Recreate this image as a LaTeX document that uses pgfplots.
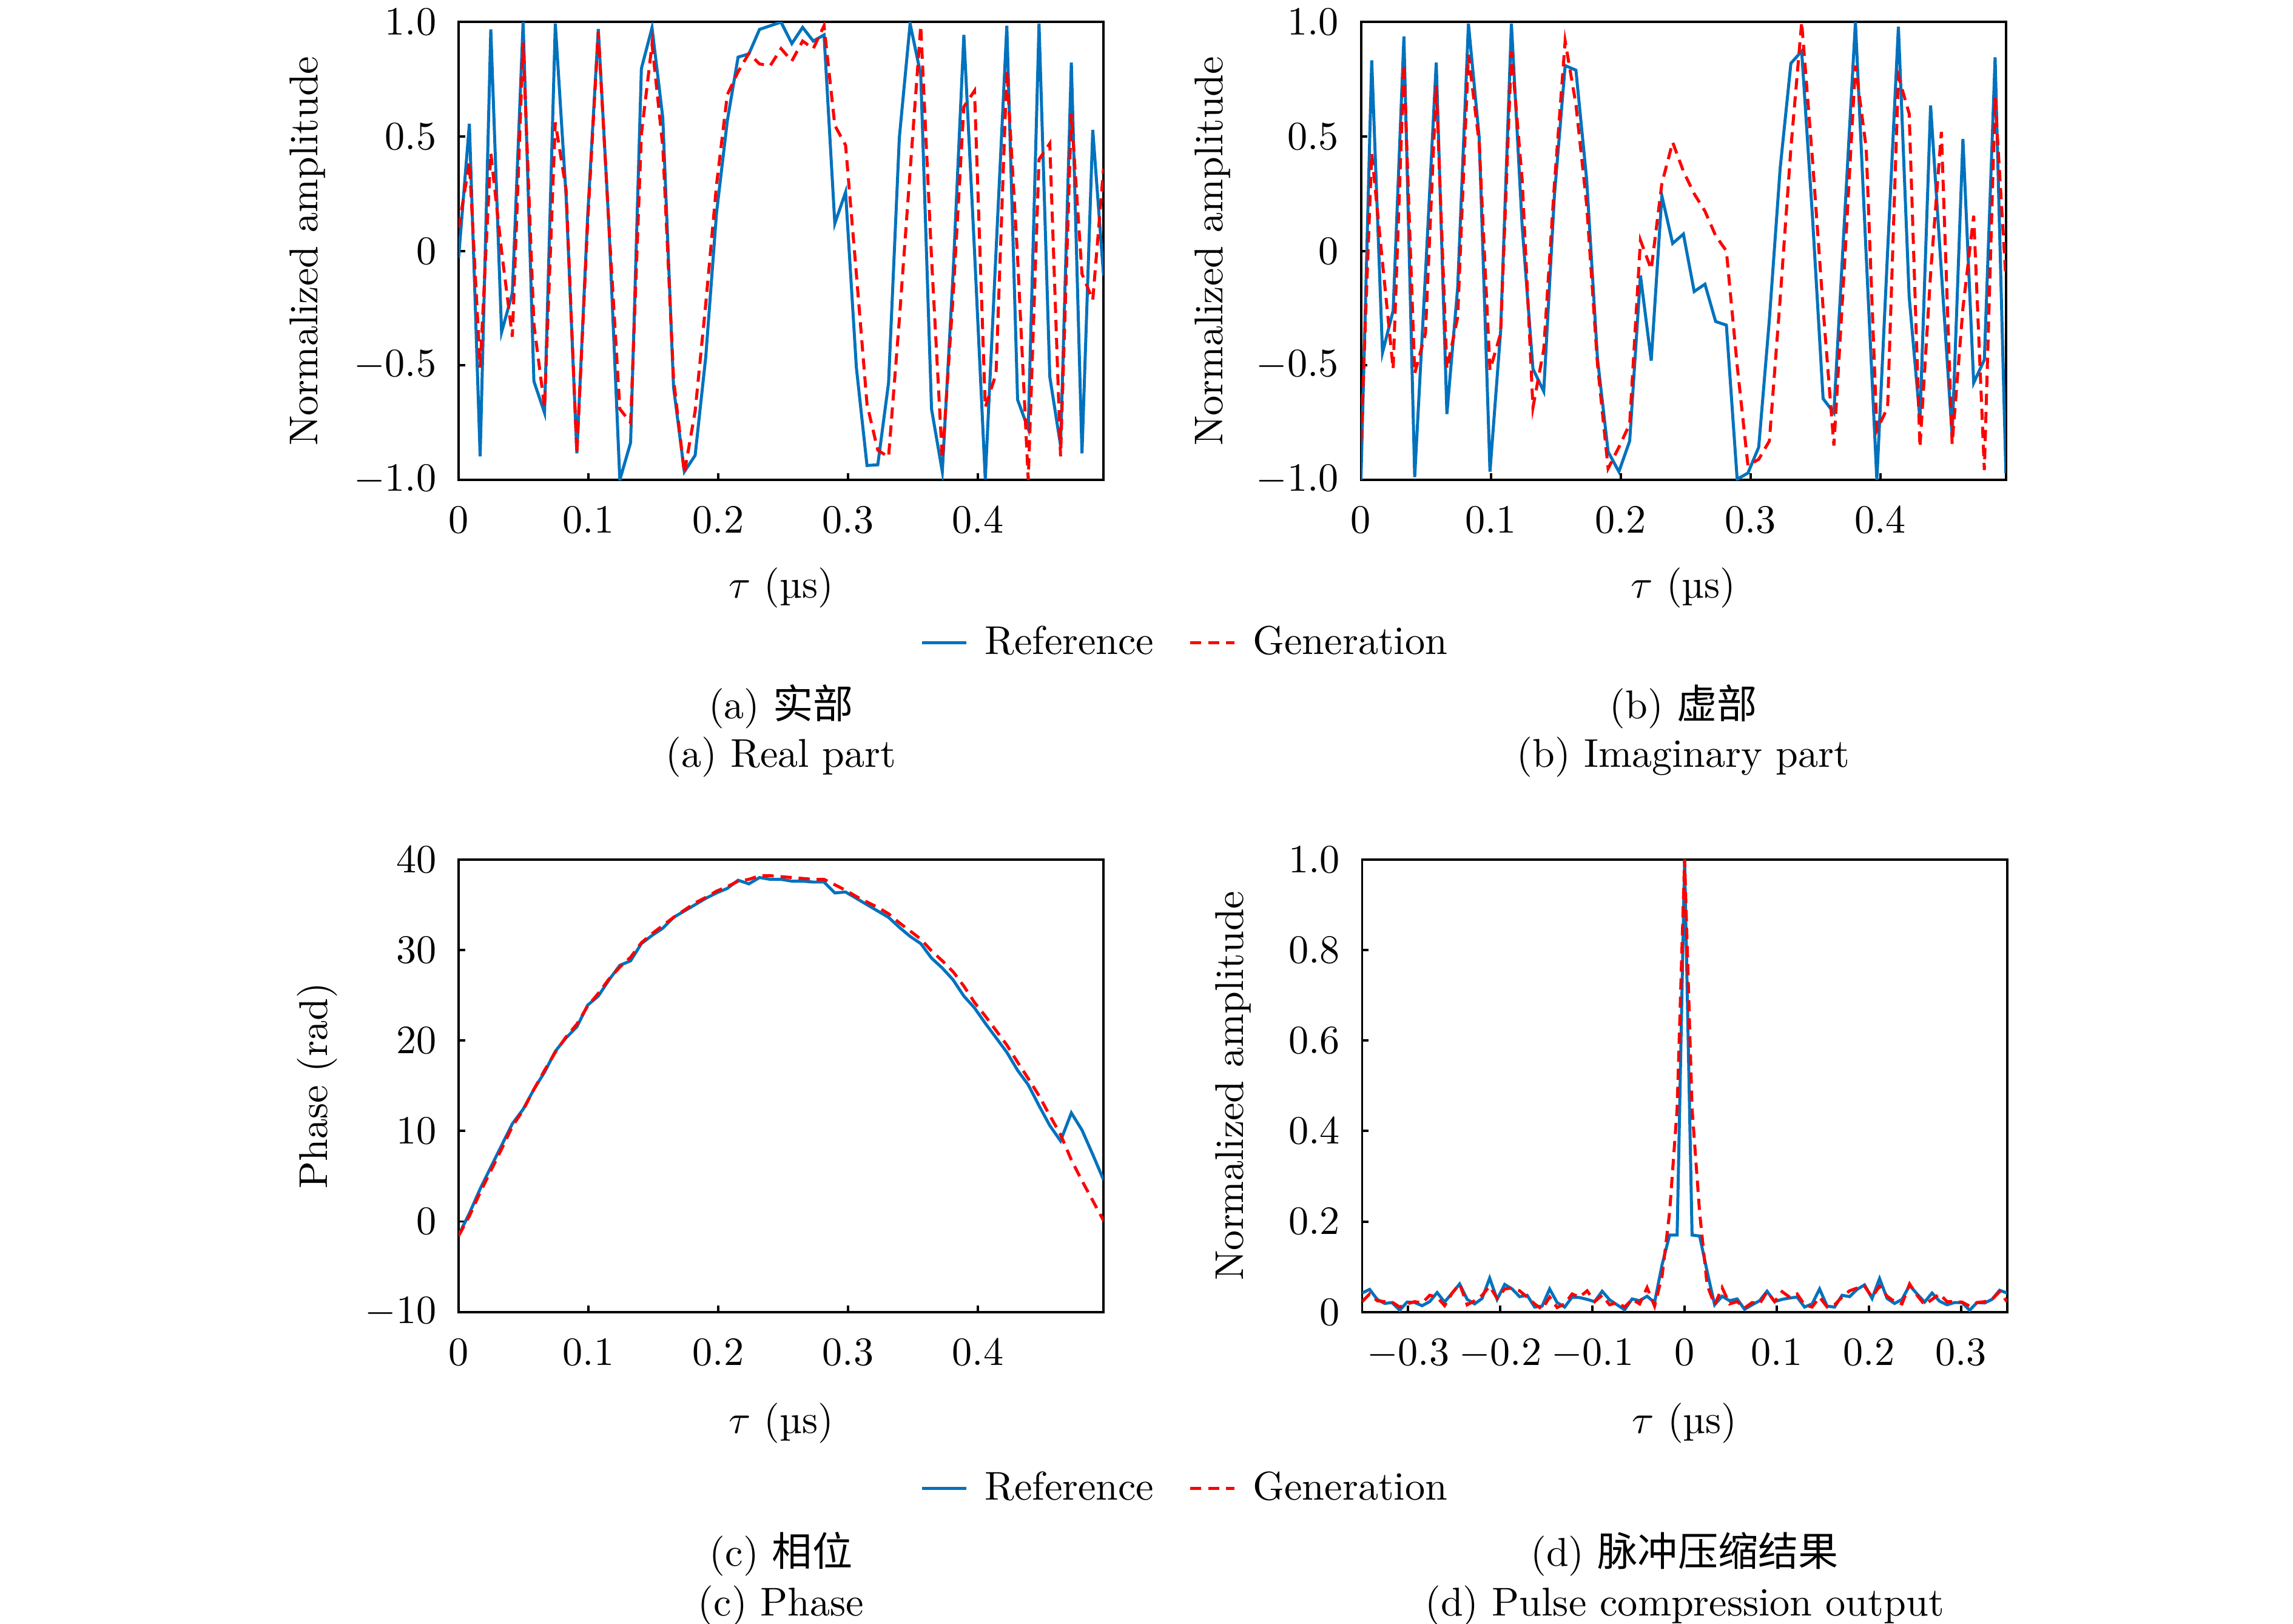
\documentclass[border=0pt]{standalone}
\usepackage{fontspec}
\newfontfamily\cjk{Noto Sans CJK SC}
\usepackage{pgfplots}
\usepackage{pgfplotstable}
\pgfplotsset{compat=1.18}
\definecolor{mblue}{rgb}{0,0.447,0.741}

\pgfplotstableread{
t ref gen
0 -0.03 0.10
0.0083 0.556 0.388
0.0166 -0.897 -0.509
0.0248 0.968 0.428
0.0331 -0.355 0.0
0.0414 -0.185 -0.375
0.0497 1.0 0.91
0.0580 -0.569 -0.32
0.0662 -0.707 -0.683
0.0745 0.993 0.562
0.0828 0.241 0.268
0.0911 -0.884 -0.884
0.0994 0.15 0.12
0.1076 0.97 0.957
0.1159 0.1 0.1
0.1242 -1.0 -0.69
0.1325 -0.837 -0.75
0.1408 0.797 0.51
0.1490 0.975 0.904
0.1573 0.582 0.455
0.1656 -0.596 -0.56
0.1739 -0.964 -0.97
0.1822 -0.893 -0.70
0.1904 -0.462 -0.23
0.1987 0.167 0.29
0.2070 0.569 0.683
0.2153 0.847 0.783
0.2236 0.861 0.863
0.2318 0.968 0.817
0.2401 0.984 0.81
0.2484 1.0 0.884
0.2567 0.906 0.83
0.2650 0.977 0.917
0.2732 0.917 0.884
0.2815 0.944 0.984
0.2898 0.12 0.549
0.2981 0.257 0.462
0.3064 -0.509 -0.1
0.3146 -0.937 -0.67
0.3229 -0.934 -0.87
0.3312 -0.576 -0.90
0.3395 0.495 -0.3
0.3478 0.993 0.35
0.3560 0.77 0.984
0.3643 -0.69 -0.03
0.3726 -0.964 -0.91
0.3809 -0.1 -0.2
0.3892 0.944 0.63
0.3974 0.0 0.70
0.4057 -0.997 -0.683
0.4140 0.0 -0.536
0.4223 0.984 0.79
0.4306 -0.65 -0.03
0.4388 -0.777 -1.0
0.4471 0.993 0.40
0.4554 -0.549 0.47
0.4637 -0.85 -0.897
0.4720 0.823 0.60
0.4802 -0.884 -0.1
0.4885 0.529 -0.214
0.4968 -0.107 0.36
}\tabA

\pgfplotstableread{
t ref gen
0 -1.0 -0.83
0.0083 0.833 0.428
0.0166 -0.444 -0.05
0.0248 -0.261 -0.515
0.0331 0.937 0.817
0.0414 -0.988 -0.535
0.0497 -0.1 -0.36
0.0580 0.823 0.723
0.0662 -0.712 -0.515
0.0745 -0.16 -0.29
0.0828 0.993 0.857
0.0911 0.495 0.47
0.0994 -0.964 -0.52
0.1076 -0.35 -0.36
0.1159 0.993 0.87
0.1242 0.107 0.31
0.1325 -0.515 -0.683
0.1408 -0.613 -0.43
0.1490 0.24 0.29
0.1573 0.81 0.917
0.1656 0.79 0.64
0.1739 0.31 0.2
0.1822 -0.47 -0.495
0.1904 -0.877 -0.95
0.1987 -0.964 -0.857
0.2070 -0.83 -0.756
0.2153 -0.107 0.047
0.2236 -0.479 -0.08
0.2318 0.241 0.295
0.2401 0.033 0.475
0.2484 0.074 0.348
0.2567 -0.177 0.25
0.2650 -0.145 0.174
0.2732 -0.308 0.067
0.2815 -0.324 0.0
0.2898 -0.997 -0.5
0.2981 -0.97 -0.937
0.3064 -0.857 -0.91
0.3146 -0.3 -0.83
0.3229 0.36 -0.21
0.3312 0.82 0.45
0.3395 0.873 1.0
0.3478 0.15 0.4
0.3560 -0.645 -0.25
0.3643 -0.707 -0.85
0.3726 0.15 -0.05
0.3809 1.0 0.81
0.3892 -0.02 0.45
0.3974 -1.0 -0.783
0.4057 0.0 -0.683
0.4140 0.98 0.763
0.4223 -0.2 0.60
0.4306 -0.736 -0.857
0.4388 0.636 -0.1
0.4471 -0.09 0.52
0.4554 -0.81 -0.843
0.4637 0.489 -0.25
0.4720 -0.576 0.154
0.4802 -0.475 -0.957
0.4885 0.846 0.669
0.4968 -0.97 -0.12
}\tabB

\pgfplotstableread{
t ref gen
0 -1.5 -1.6
0.0083 0.9 0.6
0.0166 3.6 3.2
0.0248 6.0 5.6
0.0331 8.4 8.0
0.0414 10.8 10.5
0.0497 12.4 12.3
0.0580 14.6 14.6
0.0662 16.5 16.7
0.0745 18.8 18.7
0.0828 20.3 20.4
0.0911 21.5 21.8
0.0994 23.9 23.8
0.1076 24.9 25.2
0.1159 26.7 26.8
0.1242 28.3 28.1
0.1325 28.8 29.2
0.1408 30.7 30.8
0.1490 31.6 31.8
0.1573 32.4 32.7
0.1656 33.6 33.6
0.1739 34.3 34.4
0.1822 35.0 35.2
0.1904 35.7 35.8
0.1987 36.3 36.5
0.2070 36.8 37.0
0.2153 37.7 37.6
0.2236 37.3 37.8
0.2318 38.0 38.2
0.2401 37.8 38.2
0.2484 37.8 38.1
0.2567 37.6 38.0
0.2650 37.6 37.9
0.2732 37.5 37.8
0.2815 37.5 37.8
0.2898 36.3 37.2
0.2981 36.4 36.6
0.3064 35.7 35.9
0.3146 35.0 35.3
0.3229 34.3 34.7
0.3312 33.6 34.0
0.3395 32.5 33.0
0.3478 31.5 32.1
0.3560 30.7 31.2
0.3643 29.1 29.9
0.3726 28.0 28.8
0.3809 26.7 27.6
0.3892 24.9 26.0
0.3974 23.6 24.2
0.4057 21.9 22.7
0.4140 20.3 21.1
0.4223 18.7 19.5
0.4306 16.7 17.6
0.4388 15.1 15.8
0.4471 12.8 13.9
0.4554 10.6 11.7
0.4637 8.9 9.6
0.4720 12.0 6.8
0.4802 10.1 4.5
0.4885 7.4 2.3
0.4968 4.6 0.1
}\tabC

\pgfplotstableread{
t ref gen
-0.3500 0.042 0.023
-0.3419 0.050 0.040
-0.3337 0.028 0.025
-0.3256 0.019 0.023
-0.3175 0.021 0.022
-0.3093 0.004 0.011
-0.3012 0.022 0.018
-0.2930 0.021 0.023
-0.2849 0.014 0.020
-0.2767 0.023 0.037
-0.2686 0.043 0.033
-0.2605 0.022 0.014
-0.2523 0.042 0.042
-0.2442 0.062 0.062
-0.2360 0.028 0.016
-0.2279 0.018 0.025
-0.2198 0.030 0.037
-0.2116 0.075 0.057
-0.2035 0.028 0.030
-0.1953 0.061 0.051
-0.1872 0.051 0.053
-0.1791 0.034 0.047
-0.1709 0.037 0.033
-0.1628 0.011 0.018
-0.1547 0.013 0.006
-0.1465 0.051 0.033
-0.1384 0.021 0.010
-0.1302 0.011 0.018
-0.1221 0.033 0.040
-0.1140 0.032 0.033
-0.1058 0.028 0.047
-0.0977 0.023 0.023
-0.0895 0.046 0.037
-0.0814 0.027 0.016
-0.0733 0.016 0.021
-0.0651 0.005 0.011
-0.0570 0.029 0.028
-0.0488 0.025 0.018
-0.0407 0.035 0.054
-0.0326 0.021 0.013
-0.0244 0.105 0.080
-0.0163 0.170 0.220
-0.0081 0.170 0.450
0 1.000 1.000
0.0081 0.170 0.450
0.0163 0.168 0.220
0.0244 0.090 0.060
0.0326 0.016 0.016
0.0407 0.035 0.054
0.0488 0.025 0.018
0.0570 0.029 0.023
0.0651 0.006 0.009
0.0733 0.016 0.021
0.0814 0.025 0.018
0.0895 0.046 0.045
0.0977 0.023 0.023
0.1058 0.028 0.045
0.1140 0.031 0.033
0.1221 0.033 0.040
0.1302 0.011 0.016
0.1384 0.018 0.011
0.1465 0.051 0.033
0.1547 0.013 0.011
0.1628 0.011 0.016
0.1709 0.037 0.033
0.1791 0.034 0.047
0.1872 0.050 0.053
0.1953 0.060 0.057
0.2035 0.030 0.033
0.2116 0.074 0.057
0.2198 0.030 0.035
0.2279 0.019 0.023
0.2360 0.028 0.018
0.2442 0.059 0.062
0.2523 0.040 0.037
0.2605 0.022 0.016
0.2686 0.042 0.028
0.2767 0.024 0.040
0.2849 0.016 0.023
0.2930 0.021 0.023
0.3012 0.021 0.022
0.3093 0.004 0.013
0.3175 0.021 0.021
0.3256 0.020 0.023
0.3337 0.028 0.028
0.3419 0.048 0.045
0.3500 0.042 0.023
}\tabD

\pgfplotsset{
  sub/.style={
    scale only axis, width=160.6pt,
    axis line style={line width=0.6pt},
    tick align=inside, major tick length=1.6pt,
    xtick pos=bottom, ytick pos=left,
    tick style={black, line width=0.6pt},
    xticklabel style={yshift=-3.3pt},
    yticklabel style={xshift=-2pt},
    xlabel={$\tau$ (\textmu s)},
    label style={font=\normalsize},
  },
  refline/.style={mblue, line width=0.75pt},
  genline/.style={red, line width=0.75pt, dash pattern=on 2.8pt off 1.7pt},
  leg/.style={legend columns=2,
    legend style={draw=none, fill=none, font=\normalsize,
      /tikz/every odd column/.append style={column sep=2.2pt},
      /tikz/every even column/.append style={column sep=6.6pt}},
    legend image code/.code={\draw[##1] (0pt,0pt) -- (11.1pt,0pt);},
  },
}

\begin{document}
\begin{tikzpicture}
\path[use as bounding box] (0pt,0pt) rectangle (571pt,-404.3pt);

% (a)
\begin{axis}[sub, at={(114.2pt,-5.5pt)}, anchor=north west, height=114.0pt,
  xmin=0, xmax=0.4968, ymin=-1, ymax=1,
  xtick={0,0.1,0.2,0.3,0.4},
  ytick={-1,-0.5,0,0.5,1}, yticklabels={$-1.0$,$-0.5$,$0$,$0.5$,$1.0$},
  ylabel={Normalized amplitude},
  xlabel style={at={(axis description cs:0.5,-0.236)}, anchor=center},
  ylabel style={at={(axis description cs:-0.234,0.5)}, anchor=center},
  leg, legend style={at={(1.131,-0.356)}, anchor=center}]
\addplot[refline] table[x=t, y=ref] {\tabA};
\addlegendentry{Reference}
\addplot[genline] table[x=t, y=gen] {\tabA};
\addlegendentry{Generation}
\end{axis}

% (b)
\begin{axis}[sub, at={(338.9pt,-5.5pt)}, anchor=north west, height=114.0pt,
  xmin=0, xmax=0.4968, ymin=-1, ymax=1,
  xtick={0,0.1,0.2,0.3,0.4},
  ytick={-1,-0.5,0,0.5,1}, yticklabels={$-1.0$,$-0.5$,$0$,$0.5$,$1.0$},
  ylabel={Normalized amplitude},
  xlabel style={at={(axis description cs:0.5,-0.236)}, anchor=center},
  ylabel style={at={(axis description cs:-0.230,0.5)}, anchor=center}]
\addplot[refline] table[x=t, y=ref] {\tabB};
\addplot[genline] table[x=t, y=gen] {\tabB};
\end{axis}

% (c)
\begin{axis}[sub, at={(114.2pt,-214.0pt)}, anchor=north west, height=112.7pt,
  xmin=0, xmax=0.4968, ymin=-10, ymax=40,
  xtick={0,0.1,0.2,0.3,0.4},
  ytick={-10,0,10,20,30,40},
  ylabel={Phase (rad)},
  xlabel style={at={(axis description cs:0.5,-0.245)}, anchor=center},
  ylabel style={at={(axis description cs:-0.219,0.5)}, anchor=center},
  leg, legend style={at={(1.131,-0.39)}, anchor=center}]
\addplot[refline] table[x=t, y=ref] {\tabC};
\addlegendentry{Reference}
\addplot[genline] table[x=t, y=gen] {\tabC};
\addlegendentry{Generation}
\end{axis}

% (d)
\begin{axis}[sub, at={(339.2pt,-214.0pt)}, anchor=north west, height=112.7pt,
  xmin=-0.35, xmax=0.35, ymin=0, ymax=1,
  xtick={-0.3,-0.2,-0.1,0,0.1,0.2,0.3},
  ytick={0,0.2,0.4,0.6,0.8,1}, yticklabels={$0$,$0.2$,$0.4$,$0.6$,$0.8$,$1.0$},
  ylabel={Normalized amplitude},
  xlabel style={at={(axis description cs:0.5,-0.245)}, anchor=center},
  ylabel style={at={(axis description cs:-0.200,0.5)}, anchor=center}]
\addplot[refline] table[x=t, y=ref] {\tabD};
\addplot[genline] table[x=t, y=gen] {\tabD};
\end{axis}

% captions
\node at (194.5pt,-176.0pt) {(a) {\cjk 实部}};
\node at (194.5pt,-188.5pt) {(a) Real part};
\node at (419.2pt,-176.0pt) {(b) {\cjk 虚部}};
\node at (419.2pt,-188.5pt) {(b) Imaginary part};
\node at (194.5pt,-387.0pt) {(c) {\cjk 相位}};
\node at (194.5pt,-399.9pt) {(c) Phase};
\node at (419.5pt,-387.0pt) {(d) {\cjk 脉冲压缩结果}};
\node at (419.5pt,-399.9pt) {(d) Pulse compression output};
\end{tikzpicture}
\end{document}
